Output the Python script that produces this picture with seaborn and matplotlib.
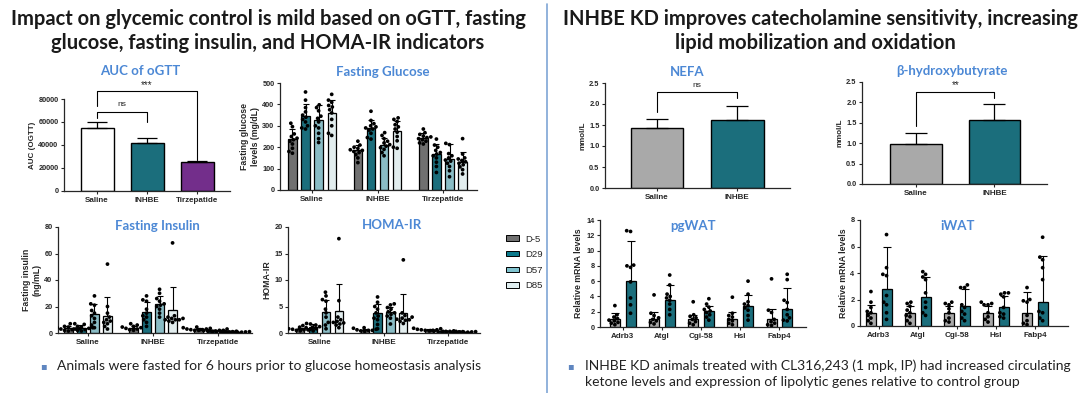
import warnings
import numpy as np
import pandas as pd
import seaborn as sns
import matplotlib.pyplot as plt
from matplotlib.patches import Patch
from matplotlib.lines import Line2D
from matplotlib.container import BarContainer

warnings.filterwarnings('ignore')

W, H = 1080, 393

# ---------------- categories ----------------
treatments = ['Saline', 'INHBE', 'Tirzepatide']
days = ['D-5', 'D29', 'D57', 'D85']
ko_groups = ['Saline', 'INHBE']
genes = ['Adrb3', 'Atgl', 'Cgi-58', 'Hsl', 'Fabp4']

# ---------------- AUC of oGTT ----------------
auc_mean = [54500, 42000, 25000]
auc_sd = [5500, 4000, 1000]

# ---------------- Fasting glucose (rows = treatment, cols = day) ----------------
glucose_mean = [[240, 345, 328, 360], [185, 290, 212, 278], [245, 170, 145, 132]]
glucose_sd = [[45, 55, 70, 60], [25, 35, 30, 45], [20, 45, 70, 45]]
glucose_pts = [
    [[312, 296, 262, 250, 242, 235, 228, 215, 195, 180, 172],
     [458, 420, 385, 365, 350, 340, 330, 318, 300, 290, 285],
     [398, 385, 370, 345, 335, 318, 300, 290, 265, 240, 222],
     [447, 420, 410, 395, 388, 375, 360, 330, 300, 265, 255]],
    [[228, 210, 200, 195, 188, 185, 180, 175, 165, 150, 128],
     [368, 325, 310, 300, 295, 290, 285, 280, 265, 245, 238],
     [268, 255, 240, 228, 220, 212, 205, 198, 190, 175, 160],
     [337, 330, 320, 305, 295, 285, 270, 250, 230, 200, 195]],
    [[285, 268, 260, 252, 248, 245, 240, 235, 228, 220, 215],
     [238, 210, 200, 185, 175, 168, 160, 150, 130, 110, 82],
     [218, 212, 170, 160, 150, 140, 135, 125, 110, 90, 62],
     [240, 168, 150, 145, 138, 132, 125, 118, 108, 95, 75]],
]

# ---------------- Fasting insulin ----------------
insulin_mean = [[3.5, 4.0, 14, 13], [4.0, 15.5, 22, 17], [3.0, 2.0, 1.0, 0.8]]
insulin_sd = [[1.5, 1.8, 8, 14.5], [1.5, 8, 6, 18], [0.8, 0.5, 0.3, 0.3]]
insulin_pts = [
    [[7, 5, 4.5, 4, 3.5, 3, 3, 2.5, 2, 1.5],
     [7, 6.5, 5, 4.5, 4, 3.5, 3, 2.5, 2, 1.5],
     [28, 22, 21, 17, 15, 13, 11, 8, 6, 4],
     [52, 20, 15, 12, 10, 9, 8, 7, 5, 3]],
    [[7, 6, 5, 4.5, 4, 3.5, 3, 2.5, 2],
     [28, 25, 24, 18, 15, 13, 12, 10, 8, 5],
     [33, 30, 26, 24, 22, 21, 20, 18, 15, 12],
     [68, 13, 12, 11, 11, 10, 10, 10, 9, 8]],
    [[4.5, 4, 3.5, 3, 3, 2.5, 2.5, 2, 2],
     [3, 2.5, 2, 2, 1.8, 1.5, 1.5, 1.2],
     [1.6, 1.3, 1.2, 1, 1, 0.8, 0.8, 0.6],
     [1.2, 1, 0.9, 0.8, 0.7, 0.6, 0.6, 0.5]],
]

# ---------------- HOMA-IR ----------------
homa_mean = [[0.7, 1.2, 4.0, 4.2], [0.6, 3.7, 3.9, 3.8], [0.6, 0.3, 0.2, 0.2]]
homa_sd = [[0.2, 0.5, 2.3, 5.0], [0.2, 1.8, 1.0, 3.6], [0.15, 0.1, 0.05, 0.05]]
homa_pts = [
    [[1.1, 0.9, 0.8, 0.8, 0.7, 0.6, 0.6, 0.5, 0.4],
     [1.8, 1.7, 1.5, 1.4, 1.2, 1.1, 1.0, 0.8, 0.6, 0.4],
     [7.7, 7.0, 6.3, 6.0, 4.5, 3.8, 3.0, 2.0, 1.5, 0.8],
     [17.8, 6.1, 3.0, 2.5, 2.2, 2.0, 1.9, 1.7, 1.5, 1.0]],
    [[1.0, 0.9, 0.7, 0.6, 0.5, 0.5, 0.4, 0.3],
     [6.8, 5.8, 5.0, 4.5, 3.8, 3.2, 2.8, 2.5, 1.6, 0.8],
     [5.5, 5.3, 4.8, 4.5, 4.0, 3.8, 3.5, 3.2, 2.8, 1.7],
     [13.8, 3.8, 3.3, 3.0, 2.8, 2.6, 2.5, 2.4, 2.2, 1.8]],
    [[0.9, 0.8, 0.7, 0.6, 0.6, 0.5, 0.5, 0.4],
     [0.45, 0.4, 0.35, 0.3, 0.3, 0.25, 0.2],
     [0.3, 0.25, 0.2, 0.2, 0.15, 0.15],
     [0.3, 0.25, 0.2, 0.2, 0.15, 0.15]],
]

# ---------------- NEFA / beta-hydroxybutyrate ----------------
nefa_mean = [1.43, 1.62]
nefa_sd = [0.22, 0.34]
bhb_mean = [0.97, 1.57]
bhb_sd = [0.28, 0.39]

# ---------------- pgWAT / iWAT (rows = gene, cols = group) ----------------
pg_mean = [[1.0, 6.0], [1.0, 3.5], [1.0, 2.1], [1.0, 2.8], [1.0, 2.4]]
pg_sd = [[0.8, 5.3], [1.0, 2.0], [0.6, 0.7], [1.0, 1.4], [1.3, 2.7]]
pg_pts = [
    [[2.8, 1.6, 1.3, 1.1, 0.9, 0.8, 0.6, 0.5, 0.3], [12.5, 12.6, 8.1, 8.0, 7.8, 5.9, 3.8, 2.9, 1.8]],
    [[4.2, 1.8, 1.5, 1.2, 1.0, 0.8, 0.6, 0.4], [6.8, 5.5, 4.3, 4.0, 3.8, 3.5, 3.0, 2.3, 1.6]],
    [[3.3, 1.6, 1.4, 1.2, 1.0, 0.7, 0.5, 0.3], [3.7, 3.0, 2.6, 2.3, 2.1, 1.9, 1.6, 1.3, 0.9]],
    [[3.9, 1.8, 1.5, 1.3, 1.0, 0.8, 0.5, 0.3], [6.0, 4.3, 3.3, 3.0, 2.8, 2.5, 2.2, 1.5, 0.9]],
    [[6.3, 2.2, 1.9, 1.0, 0.7, 0.5, 0.3, 0.2], [6.9, 6.2, 3.5, 3.2, 2.3, 1.6, 1.2, 0.9, 0.8]],
]
iw_mean = [[1.0, 2.8], [1.0, 2.2], [1.0, 1.5], [1.0, 1.4], [1.0, 1.8]]
iw_sd = [[0.6, 3.2], [0.5, 1.5], [0.5, 1.3], [0.5, 0.9], [1.6, 3.5]]
iw_pts = [
    [[2.6, 1.8, 1.4, 1.1, 1.0, 0.8, 0.6, 0.4, 0.2], [6.9, 4.4, 3.9, 3.8, 2.3, 1.8, 1.6, 1.0, 0.5]],
    [[1.8, 1.7, 1.5, 1.2, 1.0, 0.8, 0.7, 0.4, 0.2], [4.1, 3.9, 3.7, 3.5, 2.5, 1.8, 1.4, 1.0, 0.8]],
    [[1.8, 1.7, 1.6, 1.3, 1.0, 0.6, 0.4, 0.3], [3.1, 2.9, 2.9, 1.6, 1.4, 1.1, 0.9, 0.6, 0.4]],
    [[1.8, 1.7, 1.6, 1.6, 1.0, 0.7, 0.5, 0.3], [2.5, 2.5, 2.4, 2.2, 1.4, 1.0, 0.9, 0.7, 0.6]],
    [[2.9, 2.0, 1.9, 1.8, 0.8, 0.4, 0.2, 0.1], [6.7, 5.2, 5.0, 4.4, 3.5, 1.1, 1.0, 0.6, 0.4]],
]

# ---------------- colours ----------------
TEAL = '#0B7A8C'
day_colors = ['#707070', TEAL, '#80C3CF', '#E0EEF0']
ko_colors = ['#A9A9A9', TEAL]
auc_colors = ['#FFFFFF', TEAL, '#7B1E9B']
TITLE_C = '#4C88D5'

sns.set_style('ticks')
plt.rcParams['font.family'] = ['Liberation Sans', 'DejaVu Sans']
plt.rcParams['font.weight'] = 'bold'
plt.rcParams['axes.labelweight'] = 'bold'
plt.rcParams['axes.linewidth'] = 0.9


def rect(x0, y0, x1, y1):
    return [x0 / W, 1 - y1 / H, (x1 - x0) / W, (y1 - y0) / H]


def style(ax, ylim, yticks, ylabel, xlim, fmt=None, lsize=5.8):
    ax.set_ylim(*ylim)
    ax.set_xlim(*xlim)
    ax.set_yticks(yticks)
    if fmt:
        ax.set_yticklabels([fmt.format(v) for v in yticks])
    ax.set_ylabel(ylabel, fontsize=lsize, labelpad=2)
    ax.set_xlabel('')
    sns.despine(ax=ax)
    ax.tick_params(labelsize=5.3, width=0.8, length=2.5, pad=1.5)
    for lab in ax.get_xticklabels():
        lab.set_fontsize(5.8)


def grouped(ax, groups, hues, mean, sd, pts, colors, gap, cap):
    rows = [(g, h, mean[i][j]) for i, g in enumerate(groups) for j, h in enumerate(hues)]
    df = pd.DataFrame(rows, columns=['group', 'hue', 'value'])
    sns.barplot(data=df, x='group', y='value', hue='hue', order=groups, hue_order=hues,
                palette=colors, edgecolor='black', linewidth=0.9, gap=gap,
                errorbar=None, legend=False, ax=ax)
    bar_conts = [c for c in ax.containers if isinstance(c, BarContainer)]
    for j, cont in enumerate(bar_conts):
        for i, p in enumerate(cont.patches):
            xc = p.get_x() + p.get_width() / 2
            ax.errorbar(xc, mean[i][j], yerr=[[0], [sd[i][j]]], color='black', lw=0.8,
                        capsize=cap, capthick=0.8, zorder=3)
    prow = [(g, h, v) for i, g in enumerate(groups) for j, h in enumerate(hues) for v in pts[i][j]]
    pdf = pd.DataFrame(prow, columns=['group', 'hue', 'value'])
    sns.swarmplot(data=pdf, x='group', y='value', hue='hue', order=groups, hue_order=hues,
                  dodge=True, palette=['black'] * len(hues), size=2.7, legend=False,
                  ax=ax, zorder=4)


def simple(ax, cats, mean, sd, colors, cap):
    df = pd.DataFrame({'group': cats, 'value': mean})
    sns.barplot(data=df, x='group', y='value', hue='group', order=cats, palette=colors,
                edgecolor='black', linewidth=1.0, width=0.66, errorbar=None,
                legend=False, ax=ax)
    bars = sorted(ax.patches, key=lambda p: p.get_x())
    for p, m, s in zip(bars, mean, sd):
        xc = p.get_x() + p.get_width() / 2
        ax.errorbar(xc, m, yerr=[[0], [s]], color='black', lw=0.9, capsize=cap,
                    capthick=0.9, zorder=3)


def bracket(ax, x0, x1, y, yl, yr, label, ty, fs):
    ax.plot([x0, x0, x1, x1], [yl, y, y, yr], color='black', lw=0.8, clip_on=False)
    ax.text((x0 + x1) / 2, ty, label, ha='center', va='center', fontsize=fs,
            fontweight='normal', clip_on=False)


def title(x, y, s):
    fig.text(x / W, 1 - y / H, s, ha='center', va='center', color=TITLE_C,
             fontsize=9.5, family='Lato', fontweight='bold')


fig = plt.figure(figsize=(W / 100, H / 100), dpi=100)
fig.patch.set_facecolor('white')

# AUC of oGTT
ax = fig.add_axes(rect(64, 99, 230, 191))
simple(ax, treatments, auc_mean, auc_sd, auc_colors, 7)
style(ax, (0, 80000), [0, 20000, 40000, 60000, 80000], 'AUC (OGTT)', (-0.66, 2.66))
bracket(ax, 0, 2, 87000, 74000, 27000, '***', 92500, 7)
bracket(ax, 0, 1, 69000, 63500, 60000, 'ns', 74800, 6)
title(140, 71, 'AUC of oGTT')

# Fasting glucose
ax = fig.add_axes(rect(280, 83, 477, 190))
grouped(ax, treatments, days, glucose_mean, glucose_sd, glucose_pts, day_colors, 0.36, 2.5)
style(ax, (0, 500), [0, 100, 200, 300, 400, 500], 'Fasting glucose\nlevels (mg/dL)',
      (-0.49, 2.52), lsize=6.3)
title(383, 72, 'Fasting Glucose')

# Fasting insulin
ax = fig.add_axes(rect(58, 227, 252, 333))
grouped(ax, treatments, days, insulin_mean, insulin_sd, insulin_pts, day_colors, 0.36, 2.5)
style(ax, (0, 80), [0, 20, 40, 60, 80], 'Fasting insulin\n(ng/mL)', (-0.46, 2.52), lsize=6.3)
title(157, 226, 'Fasting Insulin')

# HOMA-IR
ax = fig.add_axes(rect(288, 227, 480, 333))
grouped(ax, treatments, days, homa_mean, homa_sd, homa_pts, day_colors, 0.36, 2.5)
style(ax, (0, 20), [0, 5, 10, 15, 20], 'HOMA-IR', (-0.49, 2.49), lsize=6.3)
title(392, 225, 'HOMA-IR')

fig.legend(handles=[Patch(facecolor=c, edgecolor='black', linewidth=0.7, label=d)
                    for c, d in zip(day_colors, days)],
           loc='upper left', bbox_to_anchor=(497 / W, 1 - 226 / H), frameon=False,
           prop={'size': 6.8, 'weight': 'normal'}, handlelength=1.4, handleheight=0.5,
           labelspacing=0.7, handletextpad=0.7)

# NEFA
ax = fig.add_axes(rect(605, 83, 790, 188))
simple(ax, ko_groups, nefa_mean, nefa_sd, ko_colors, 8)
style(ax, (0, 2.5), [0, 0.5, 1.0, 1.5, 2.0, 2.5], 'mmol/L', (-0.65, 1.66), fmt='{:.1f}')
bracket(ax, 0, 1, 2.28, 1.82, 2.14, 'ns', 2.44, 6)
title(687, 72, 'NEFA')

# beta-hydroxybutyrate
ax = fig.add_axes(rect(862, 82, 1047, 184))
simple(ax, ko_groups, bhb_mean, bhb_sd, ko_colors, 8)
style(ax, (0, 2.5), [0, 0.5, 1.0, 1.5, 2.0, 2.5], 'mmol/L', (-0.69, 1.67), fmt='{:.1f}')
bracket(ax, 0, 1, 2.25, 1.41, 2.12, '**', 2.43, 7)
title(952, 71, 'β-hydroxybutyrate')

# pgWAT
ax = fig.add_axes(rect(600, 220, 806, 327))
grouped(ax, genes, ko_groups, pg_mean, pg_sd, pg_pts, ko_colors, 0.36, 3)
style(ax, (0, 14), list(range(0, 15, 2)), 'Relative mRNA levels', (-0.58, 4.68), lsize=6.3)
title(693, 226, 'pgWAT')

# iWAT
ax = fig.add_axes(rect(860, 220, 1068, 326))
grouped(ax, genes, ko_groups, iw_mean, iw_sd, iw_pts, ko_colors, 0.36, 3)
style(ax, (0, 8), [0, 2, 4, 6, 8], 'Relative mRNA levels', (-0.48, 4.85), lsize=6.3)
title(958, 226, 'iWAT')

# headers
hdr = dict(ha='center', va='center', fontsize=14.5, family='Lato', fontweight='bold',
           color='#1A1A1A')
fig.text(268 / W, 1 - 19 / H, 'Impact on glycemic control is mild based on oGTT, fasting', **hdr)
fig.text(268 / W, 1 - 43 / H, 'glucose, fasting insulin, and HOMA-IR indicators', **hdr)
fig.text(820 / W, 1 - 19 / H, 'INHBE KD improves catecholamine sensitivity, increasing', **hdr)
fig.text(815 / W, 1 - 43 / H, 'lipid mobilization and oxidation', **hdr)

# separator
fig.add_artist(Line2D([547 / W, 547 / W], [0, 0.99], color='#7FA6D6', lw=1.2))

# bullets
bul = dict(ha='left', va='center', fontsize=10, family=['Lato', 'DejaVu Sans'],
           fontweight='normal', color='#222222')
fig.text(40 / W, 1 - 366 / H, '▪', color='#5F86C0', fontsize=7, ha='left', va='center',
         family='DejaVu Sans', fontweight='normal')
fig.text(57 / W, 1 - 366 / H, 'Animals were fasted for 6 hours prior to glucose homeostasis analysis', **bul)
fig.text(567 / W, 1 - 366 / H, '▪', color='#5F86C0', fontsize=7, ha='left', va='center',
         family='DejaVu Sans', fontweight='normal')
fig.text(585 / W, 1 - 366 / H, 'INHBE KD animals treated with CL316,243 (1 mpk, IP) had increased circulating', **bul)
fig.text(585 / W, 1 - 382 / H, 'ketone levels and expression of lipolytic genes relative to control group', **bul)

fig.savefig('out.png', dpi=100, facecolor='white')
